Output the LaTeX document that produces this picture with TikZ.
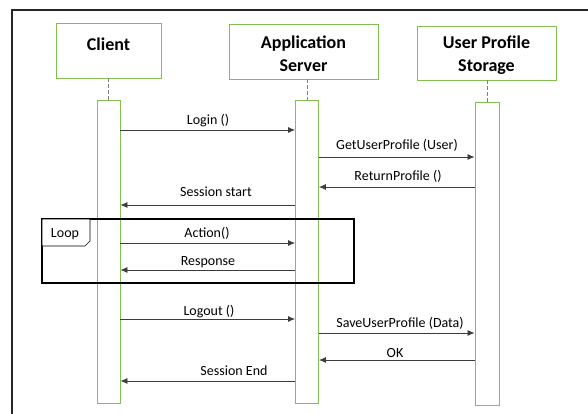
\documentclass[tikz,border=0pt]{standalone}
\usepackage{fontspec}
\setmainfont{Carlito}
\usetikzlibrary{arrows.meta}
\definecolor{lifegreen}{RGB}{130,190,80}
\definecolor{msggray}{RGB}{60,60,60}
\tikzset{
  headbox/.style={draw=lifegreen, line width=0.9pt, fill=white, inner sep=0pt},
  headtext/.style={inner sep=0pt, align=center, font=\fontsize{18}{23}\selectfont\bfseries},
  actbar/.style={draw=lifegreen, line width=0.9pt, fill=white, inner sep=0pt, minimum width=23pt},
  lifeline/.style={draw=gray, dashed, dash pattern=on 4pt off 2pt, line width=0.9pt},
  msg/.style={draw=msggray, line width=0.8pt, -{Latex[length=7pt,width=6pt]}},
  msglabel/.style={font=\fontsize{14}{16}\selectfont, inner sep=1pt},
  loopframe/.style={draw=black, line width=2.4pt},
}
\begin{document}
\begin{tikzpicture}[x=1pt,y=-1pt]
\useasboundingbox (0,0) rectangle (588,414);
% outer frame
\draw[line width=1.1pt, draw=black!85] (12,414) -- (12,10) -- (588,10);

% participant headers
\node[headbox, minimum width=105pt, minimum height=55pt] (cbox) at (108.5,50.5) {};
\node[headtext, yshift=6pt] (ctext) at (cbox.center) {Client};
\node[headbox, minimum width=149pt, minimum height=55pt] (sbox) at (303.5,51.5) {};
\node[headtext, yshift=-2pt] (stext) at (sbox.center) {Application\\Server};
\node[headbox, minimum width=139pt, minimum height=54pt] (pbox) at (486.5,53) {};
\node[headtext, yshift=-2pt] (ptext) at (pbox.center) {User Profile\\Storage};

% activation bars
\node[actbar, minimum height=303pt] (cbar) at (108.5,251.5) {};
\node[actbar, minimum height=303pt] (sbar) at (307,251.5) {};
\node[actbar, minimum width=24pt, minimum height=303pt] (pbar) at (487,253.5) {};

% dashed lifeline stubs
\draw[lifeline] (cbox.south -| cbar.north) -- (cbar.north);
\draw[lifeline] (sbox.south -| sbar.north) -- (sbar.north);
\draw[lifeline] (pbox.south -| pbar.north) -- (pbar.north);

% messages
\draw[msg] (cbar.east |- 0,130) -- (sbar.west |- 0,130);
\node[msglabel] (l1) at (208,121) {Login ()};
\draw[msg] (sbar.east |- 0,157) -- (pbar.west |- 0,157);
\node[msglabel] (l2) at (397,145) {GetUserProfile (User)};
\draw[msg] (pbar.west |- 0,187) -- (sbar.east |- 0,187);
\node[msglabel] (l3) at (398,176) {ReturnProfile ()};
\draw[msg] (sbar.west |- 0,205) -- (cbar.east |- 0,205);
\node[msglabel] (l4) at (216,192) {Session start};

% loop fragment
\draw[loopframe] (42,219) rectangle (354,283);
\draw[line width=0.7pt, fill=white] (42,219) -- (90,219) -- (90,241) -- (85,246) -- (42,246) -- cycle;
\node[msglabel] (looplabel) at (65,234) {Loop};
\draw[msg] (cbar.east |- 0,243) -- (sbar.west |- 0,243);
\node[msglabel] (l5) at (207,233) {Action()};
\draw[msg] (sbar.west |- 0,270) -- (cbar.east |- 0,270);
\node[msglabel] (l6) at (208,262) {Response};

\draw[msg] (cbar.east |- 0,319) -- (sbar.west |- 0,319);
\node[msglabel] (l7) at (209,312) {Logout ()};
\draw[msg] (sbar.east |- 0,333) -- (pbar.west |- 0,333);
\node[msglabel] (l8) at (400,323) {SaveUserProfile (Data)};
\draw[msg] (pbar.west |- 0,360) -- (sbar.east |- 0,360);
\node[msglabel] (l9) at (395,353) {OK};
\draw[msg] (sbar.west |- 0,381) -- (cbar.east |- 0,381);
\node[msglabel] (l10) at (234,371) {Session End};
\end{tikzpicture}
\end{document}
